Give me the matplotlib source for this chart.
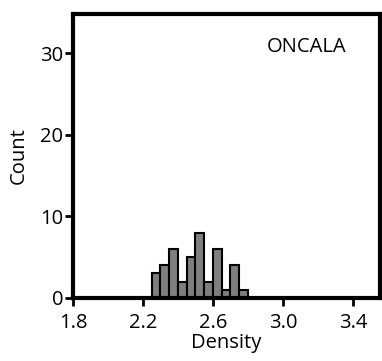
import numpy as np
from matplotlib import pyplot as plt

# histogram of densities
bin_edges = [2.25, 2.30, 2.35, 2.40, 2.45, 2.50, 2.55, 2.60, 2.65, 2.70, 2.75, 2.80]
counts = [3, 4, 6, 2, 5, 8, 2, 6, 1, 4, 1]
x_ticks = [1.8, 2.2, 2.6, 3.0, 3.4]
y_ticks = [0, 10, 20, 30]
site = "ONCALA"

plt.rcParams["font.family"] = ["Open Sans", "DejaVu Sans"]

fig = plt.figure(figsize=(3.82, 3.61), dpi=100)
ax = fig.add_axes([0.191, 0.175, 0.804, 0.786])

edges = np.array(bin_edges)
centers = (edges[:-1] + edges[1:]) / 2
ax.hist(centers, bins=edges, weights=counts, color="#7f7f7f",
        edgecolor="black", linewidth=1.5)

ax.set_xlim(1.8, 3.555)
ax.set_ylim(0, 34.8)
ax.set_xticks(x_ticks)
ax.set_xticklabels([f"{v:.1f}" for v in x_ticks])
ax.set_yticks(y_ticks)

for s in ax.spines.values():
    s.set_linewidth(3)
ax.tick_params(direction="out", length=6, width=2, labelsize=14.5)
ax.tick_params(axis="x", pad=5)
ax.tick_params(axis="y", pad=1)

ax.set_xlabel("Density", fontsize=14.5, labelpad=0)
ax.set_ylabel("Count", fontsize=14.5, labelpad=8)
ax.text(0.76, 0.885, site, transform=ax.transAxes, fontsize=14.5,
        ha="center", va="center")

fig.savefig("out.png", dpi=100)
